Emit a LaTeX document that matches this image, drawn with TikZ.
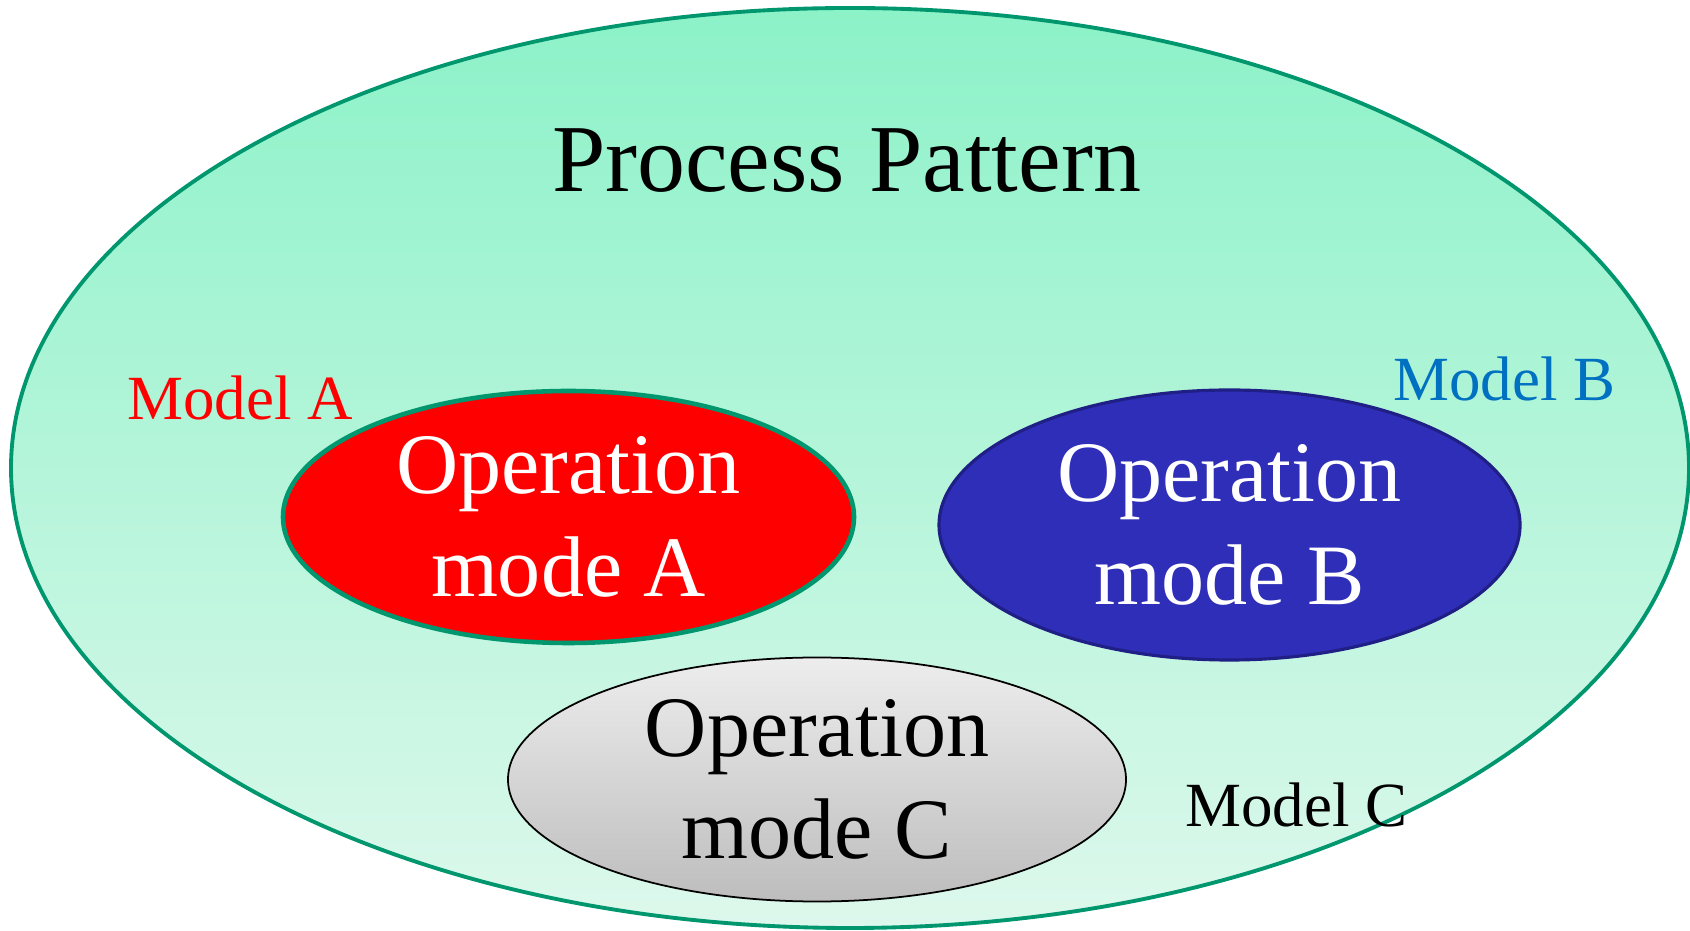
\documentclass[tikz,border=0pt]{standalone}
\usepackage{fontspec}
\setmainfont{Liberation Serif}
\usetikzlibrary{shapes.geometric}
\definecolor{patternTop}{HTML}{8CF2C8}
\definecolor{patternBottom}{HTML}{DDF8EC}
\definecolor{patternStroke}{HTML}{00966E}
\definecolor{modeAFill}{HTML}{FF0000}
\definecolor{modeBFill}{HTML}{2E2EB8}
\definecolor{modeBStroke}{HTML}{1F1F85}
\definecolor{modeCTop}{HTML}{EDEDED}
\definecolor{modeCBottom}{HTML}{BDBDBD}
\definecolor{labelRed}{HTML}{FF0000}
\definecolor{labelBlue}{HTML}{0070C0}

\begin{document}
\begin{tikzpicture}[
    modeNode/.style={
        ellipse, inner sep=0pt,
        align=center,
        font=\fontsize{24.5}{29.2}\selectfont
    },
    patternNode/.style={
        ellipse, inner sep=0pt,
        draw=patternStroke, line width=1.1pt,
        top color=patternTop, bottom color=patternBottom,
        minimum width=16.78cm, minimum height=9.2cm
    },
    patternTitle/.style={font=\fontsize{27.3}{32}\selectfont, anchor=base},
    modelLabel/.style={font=\fontsize{17.9}{21}\selectfont, anchor=base}
]
\useasboundingbox (0,0) rectangle (16.9,9.3);

% outer pattern with its title
\node[patternNode] (Pattern) at (8.50, 4.62) {};
\node[patternTitle] (PatternTitle) at (8.465, 7.38) {Process Pattern};

% the three operation modes
\node[modeNode, draw=patternStroke, line width=1.3pt, fill=modeAFill, text=white,
      minimum width=5.71cm, minimum height=2.52cm] (ModeA) at (5.685, 4.13)
  {Operation\\mode A};
\node[modeNode, draw=modeBStroke, line width=0.9pt, fill=modeBFill, text=white,
      minimum width=5.81cm, minimum height=2.70cm] (ModeB) at (12.295, 4.05)
  {Operation\\mode B};
\node[modeNode, draw=black, line width=0.5pt, top color=modeCTop, bottom color=modeCBottom,
      minimum width=6.18cm, minimum height=2.44cm] (ModeC) at (8.17, 1.505)
  {Operation\\mode C};

% model labels
\node[modelLabel, text=labelRed] (ModelA) at (2.40, 5.10) {Model A};
\node[modelLabel, text=labelBlue] (ModelB) at (15.045, 5.29) {Model B};
\node[modelLabel] (ModelC) at (12.965, 1.04) {Model C};

\end{tikzpicture}
\end{document}
